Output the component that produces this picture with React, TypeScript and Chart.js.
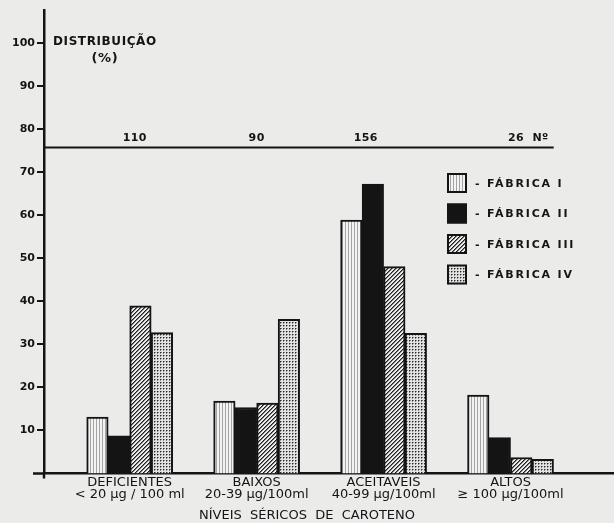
import React, { useEffect, useRef } from 'react';
import { Chart, registerables } from 'chart.js';

Chart.register(...registerables);

// ---- data ----
const categories: string[][] = [
  ['DEFICIENTES', '< 20 μg / 100 ml'],
  ['BAIXOS', '20-39 μg/100ml'],
  ['ACEITAVEIS', '40-99 μg/100ml'],
  ['ALTOS', '≥ 100 μg/100ml'],
];
const groupPositions = [1, 2, 3, 4];
const fabricaLabels = ['FÁBRICA I', 'FÁBRICA II', 'FÁBRICA III', 'FÁBRICA IV'];
const fabricaI = [13.1, 16.8, 58.8, 18.2];
const fabricaII = [8.7, 15.3, 67.2, 8.3];
const fabricaIII = [38.9, 16.3, 48.0, 3.7];
const fabricaIV = [32.7, 35.8, 32.5, 3.25];
const sampleSizes = ['110', '90', '156', '26  Nº'];
const yTickValues = [10, 20, 30, 40, 50, 60, 70, 80, 90, 100];
const yTitle = ['DISTRIBUIÇÃO', '(%)'];
const xTitle = 'NÍVEIS  SÉRICOS  DE  CAROTENO';
const separatorValue = 75.7;

// ---- layout / style constants ----
const INK = '#141414';
const BG = '#ebebea';
const FONT = '"DejaVu Sans", sans-serif';
const sampleShift = [0.04, 0, -0.14, 0.14];
const separatorEnd = 4.34;
const legendBox = { x: 447, y: 173, step: 30.5, size: 20 };

function makePattern(kind: string): CanvasPattern | string {
  const c = document.createElement('canvas');
  const n = kind === 'diagonal' ? 4 : 3;
  c.width = n;
  c.height = n;
  const ctx = c.getContext('2d');
  if (!ctx) return '#888';
  if (kind === 'vertical') {
    ctx.fillStyle = '#f3f3f3';
    ctx.fillRect(0, 0, n, n);
    ctx.fillStyle = '#a4a4a4';
    ctx.fillRect(0, 0, 1, n);
  } else if (kind === 'diagonal') {
    ctx.fillStyle = '#ececec';
    ctx.fillRect(0, 0, n, n);
    for (let x = 0; x < n; x++) {
      for (let y = 0; y < n; y++) {
        const m = (x + y) % 4;
        if (m === 3) { ctx.fillStyle = '#1e1e1e'; ctx.fillRect(x, y, 1, 1); }
        else if (m === 0) { ctx.fillStyle = '#7a7a7a'; ctx.fillRect(x, y, 1, 1); }
      }
    }
  } else if (kind === 'dots') {
    ctx.fillStyle = '#e2e2e2';
    ctx.fillRect(0, 0, n, n);
    ctx.fillStyle = '#262626';
    ctx.fillRect(1, 1, 1, 1);
    ctx.fillStyle = '#8a8a8a';
    ctx.fillRect(2, 1, 1, 1);
    ctx.fillRect(1, 2, 1, 1);
  }
  return ctx.createPattern(c, 'repeat') || '#888';
}

export default function App() {
  const ref = useRef<HTMLCanvasElement | null>(null);

  useEffect(() => {
    document.body.style.margin = '0';
    const canvas = ref.current;
    if (!canvas) return;

    const fills = [makePattern('vertical'), INK, makePattern('diagonal'), makePattern('dots')];
    const series = [fabricaI, fabricaII, fabricaIII, fabricaIV];

    const decor = {
      id: 'decor',
      beforeDraw(chart: any) {
        const c = chart.ctx;
        c.save();
        c.fillStyle = BG;
        c.fillRect(0, 0, chart.width, chart.height);
        c.restore();
      },
      afterDraw(chart: any) {
        const c: CanvasRenderingContext2D = chart.ctx;
        const area = chart.chartArea;
        const xs = chart.scales.x;
        const ys = chart.scales.y;
        c.save();
        c.strokeStyle = INK;
        c.fillStyle = INK;

        // axis extensions
        c.lineWidth = 2.5;
        c.beginPath();
        c.moveTo(area.left - 11, area.bottom);
        c.lineTo(area.left, area.bottom);
        c.moveTo(area.left, area.bottom);
        c.lineTo(area.left, area.bottom + 5);
        c.stroke();

        // separator line for sample sizes
        const sy = ys.getPixelForValue(separatorValue);
        c.lineWidth = 2;
        c.beginPath();
        c.moveTo(area.left, sy);
        c.lineTo(xs.getPixelForValue(separatorEnd), sy);
        c.stroke();

        c.font = `bold 11px ${FONT}`;
        (c as any).letterSpacing = '0.4px';
        c.textAlign = 'center';
        c.textBaseline = 'middle';
        sampleSizes.forEach((s, i) => {
          c.fillText(s, xs.getPixelForValue(groupPositions[i] + sampleShift[i]), sy - 9);
        });

        // y title
        c.font = `bold 12px ${FONT}`;
        (c as any).letterSpacing = '0.6px';
        c.textAlign = 'left';
        const ty = ys.getPixelForValue(100) - 1;
        const tx = area.left + 9;
        c.fillText(yTitle[0], tx, ty);
        const tw = c.measureText(yTitle[0]).width;
        c.textAlign = 'center';
        c.font = `bold 13px ${FONT}`;
        c.fillText(yTitle[1], tx + tw / 2, ty + 17);

        // legend
        c.font = `bold 11px ${FONT}`;
        (c as any).letterSpacing = '1.8px';
        c.textAlign = 'left';
        fabricaLabels.forEach((lab, i) => {
          const bx = legendBox.x;
          const by = legendBox.y + i * legendBox.step;
          c.fillStyle = fills[i] as any;
          c.fillRect(bx, by, legendBox.size, legendBox.size);
          c.strokeStyle = INK;
          c.lineWidth = 2;
          c.strokeRect(bx + 1, by + 1, legendBox.size - 2, legendBox.size - 2);
          c.fillStyle = INK;
          c.fillText('- ' + lab, bx + 28, by + legendBox.size / 2 + 1);
        });
        c.restore();
      },
    };

    const chart = new Chart(canvas, {
      type: 'bar',
      data: {
        datasets: series.map((vals, k) => ({
          label: fabricaLabels[k],
          data: groupPositions.map((p, i) => ({ x: p, y: vals[i] })),
          backgroundColor: fills[k] as any,
          borderColor: INK,
          borderWidth: 2,
          barThickness: 21.5,
        })),
      },
      options: {
        animation: false,
        responsive: false,
        devicePixelRatio: 1,
        events: [],
        layout: { padding: { top: 10, left: 0, right: 0, bottom: 0 } },
        plugins: {
          legend: { display: false },
          tooltip: { enabled: false },
          title: {
            display: true,
            position: 'bottom',
            text: xTitle,
            color: INK,
            font: { family: FONT, size: 13, weight: 'normal' },
            padding: { top: 3, bottom: 0 },
          },
        },
        scales: {
          x: {
            type: 'linear',
            offset: false,
            min: 0.325,
            max: 4.815,
            afterBuildTicks: (s: any) => {
              s.ticks = groupPositions.map((v) => ({ value: v }));
            },
            afterFit: (s: any) => {
              s.height = 31;
            },
            grid: { display: false, drawTicks: false, offset: false },
            border: { display: true, color: INK, width: 2.5 },
            ticks: {
              autoSkip: false,
              maxRotation: 0,
              padding: 3,
              color: INK,
              font: { family: FONT, size: 13, lineHeight: 0.92 },
              callback: (v: any) => {
                const i = groupPositions.indexOf(Number(v));
                return i >= 0 ? categories[i] : '';
              },
            },
          },
          y: {
            type: 'linear',
            min: 0,
            max: 107.6,
            afterBuildTicks: (s: any) => {
              s.ticks = yTickValues.map((v) => ({ value: v }));
            },
            afterFit: (s: any) => {
              s.width = 44;
            },
            grid: { drawOnChartArea: false, drawTicks: true, tickLength: 7, color: INK, lineWidth: 2 },
            border: { display: true, color: INK, width: 2.5 },
            ticks: {
              padding: 2,
              color: INK,
              font: { family: FONT, size: 11, weight: 'bold' },
            },
          },
        },
      },
      plugins: [decor],
    } as any);

    return () => chart.destroy();
  }, []);

  return (
    <div style={{ position: 'absolute', left: 0, top: 0, width: 614, height: 523, background: BG }}>
      <canvas ref={ref} width={614} height={523} style={{ display: 'block', width: 614, height: 523 }} />
    </div>
  );
}
